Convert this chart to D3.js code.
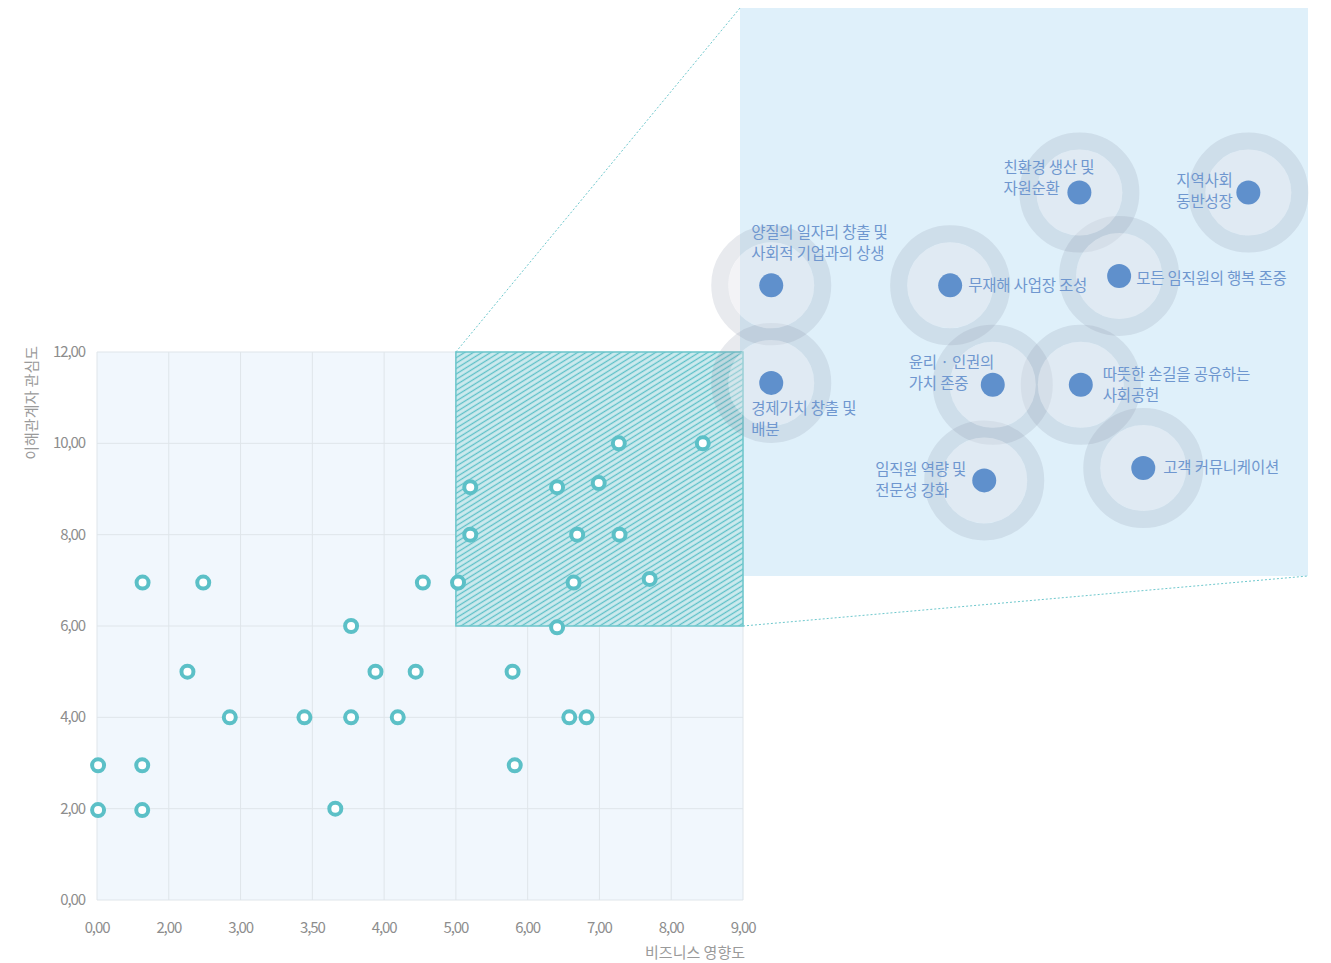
<!DOCTYPE html>
<html>
<head>
<meta charset="utf-8">
<script src="https://cdn.jsdelivr.net/npm/d3@7"></script>
<style>
  body { margin: 0; background: #fff; }
  text { font-family: "Noto Sans CJK KR", "Noto Sans", sans-serif; }
</style>
</head>
<body>
<svg id="chart" width="1331" height="963"></svg>
<script>
// materiality matrix + zoomed issue panel

// x axis is not uniform: evenly spaced ticks with these values
const xTicks = [0, 2, 3, 3.5, 4, 5, 6, 7, 8, 9];
const xTickLabels = ["0,00", "2,00", "3,00", "3,50", "4,00", "5,00", "6,00", "7,00", "8,00", "9,00"];
const yTicks = [0, 2, 4, 6, 8, 10, 12];
const yTickLabels = ["0,00", "2,00", "4,00", "6,00", "8,00", "10,00", "12,00"];

// business impact / stakeholder interest
const impact   = [0.03, 1.26, 3.66, 0.03, 1.26, 5.82, 2.85, 3.445, 3.77, 4.19, 6.58, 6.82,
                  2.26, 3.94, 4.44, 5.79, 3.77, 6.41, 1.27, 2.48, 4.54, 5.03, 6.64, 7.70,
                  5.2, 6.69, 7.28, 5.2, 6.41, 6.99, 7.27, 8.44];
const interest = [1.97, 1.97, 2.0, 2.95, 2.95, 2.95, 4, 4, 4, 4, 4, 4,
                  5, 5, 5, 5, 6, 5.97, 6.95, 6.95, 6.95, 6.95, 6.95, 7.03,
                  8, 8, 8, 9.04, 9.04, 9.13, 10, 10];

// highlighted region (in data units)
const zoomX = [5, 9];
const zoomY = [6, 12];

// issues shown in the panel (spread out a little compared to the matrix)
const issues = [
  ["양질의 일자리 창출 및", "사회적 기업과의 상생"],
  ["경제가치 창출 및", "배분"],
  ["무재해 사업장 조성"],
  ["친환경 생산 및", "자원순환"],
  ["지역사회", "동반성장"],
  ["모든 임직원의 행복 존중"],
  ["윤리 · 인권의", "가치 존중"],
  ["따뜻한 손길을 공유하는", "사회공헌"],
  ["임직원 역량 및", "전문성 강화"],
  ["고객 커뮤니케이션"]
];
const issueX = [5.22, 5.22, 6.48, 7.39, 8.58, 7.67, 6.78, 7.40, 6.72, 7.84];
const issueY = [9.07, 8.04, 9.07, 10.05, 10.05, 9.17, 8.02, 8.02, 7.01, 7.14];

// label offsets from the dot: [dx, dy of first line centre]
const labelOff = [[-20, -52], [-20, 26], [18, 1], [-76, -25], [-72, -12],
                  [17, 3], [-84, -22], [22, -10], [-109, -10], [20, 0]];

const teal = "#5cc0c7";
const gridC = "#dfe5ea";
const tickC = "#8d8d8d";

const svg = d3.select("#chart");
const defs = svg.append("defs");

const pat = defs.append("pattern").attr("id", "hatch")
    .attr("patternUnits", "userSpaceOnUse")
    .attr("width", 4.6).attr("height", 4.6)
    .attr("patternTransform", "rotate(-32)");
pat.append("rect").attr("width", 4.6).attr("height", 4.6).attr("fill", "#cdeaee");
pat.append("line").attr("x1", 0).attr("y1", 2.3).attr("x2", 4.6).attr("y2", 2.3)
    .attr("stroke", teal).attr("stroke-width", 1.3);

// ---- scales
const pl = 97, pr = 743, pt = 352, pb = 900;
const x = d3.scaleLinear().domain(xTicks)
    .range(xTicks.map((d, i) => pl + i * (pr - pl) / (xTicks.length - 1)));
const y = d3.scaleLinear().domain([0, 12]).range([pb, pt]);

const px = d3.scaleLinear().domain(zoomX).range([740, 1308]);
const py = d3.scaleLinear().domain(zoomY).range([576, 8]);

// panel background goes under everything
svg.append("rect").attr("x", px(zoomX[0])).attr("y", py(zoomY[1]))
    .attr("width", px(zoomX[1]) - px(zoomX[0])).attr("height", py(zoomY[0]) - py(zoomY[1]))
    .attr("fill", "#dff0fa");

// ---- matrix
const g = svg.append("g");
g.append("rect").attr("x", pl).attr("y", pt).attr("width", pr - pl).attr("height", pb - pt)
    .attr("fill", "#f1f7fd");

g.selectAll("line.vg").data(xTicks).join("line").attr("class", "vg")
    .attr("x1", d => x(d)).attr("x2", d => x(d)).attr("y1", pt).attr("y2", pb)
    .attr("stroke", gridC).attr("stroke-width", 1);
g.selectAll("line.hg").data(yTicks).join("line").attr("class", "hg")
    .attr("x1", pl).attr("x2", pr).attr("y1", d => y(d)).attr("y2", d => y(d))
    .attr("stroke", gridC).attr("stroke-width", 1);

g.selectAll("text.xt").data(xTicks).join("text").attr("class", "xt")
    .attr("x", d => x(d)).attr("y", 933).attr("text-anchor", "middle")
    .attr("font-size", 15).attr("letter-spacing", -1.1).attr("fill", tickC)
    .text((d, i) => xTickLabels[i]);
g.selectAll("text.yt").data(yTicks).join("text").attr("class", "yt")
    .attr("x", 85).attr("y", d => y(d) + 5).attr("text-anchor", "end")
    .attr("font-size", 15).attr("letter-spacing", -1.1).attr("fill", tickC)
    .text((d, i) => yTickLabels[i]);

g.append("text").attr("x", 745).attr("y", 958).attr("text-anchor", "end")
    .attr("font-size", 15).attr("fill", "#9a9a9a").text("비즈니스 영향도");
g.append("text").attr("transform", "translate(37,346) rotate(-90)")
    .attr("text-anchor", "end").attr("font-size", 15).attr("fill", "#9a9a9a")
    .text("이해관계자 관심도");

// highlighted box
g.append("rect").attr("x", x(zoomX[0])).attr("y", y(zoomY[1]))
    .attr("width", x(zoomX[1]) - x(zoomX[0])).attr("height", y(zoomY[0]) - y(zoomY[1]))
    .attr("fill", "url(#hatch)").attr("stroke", "#6cc6cb").attr("stroke-width", 1.5);

g.selectAll("circle.pt").data(impact).join("circle").attr("class", "pt")
    .attr("cx", d => x(d)).attr("cy", (d, i) => y(interest[i])).attr("r", 6)
    .attr("fill", "#fff").attr("stroke", teal).attr("stroke-width", 4);

// connector lines
svg.append("line").attr("x1", x(zoomX[0])).attr("y1", y(zoomY[1]))
    .attr("x2", px(zoomX[0])).attr("y2", py(zoomY[1]))
    .attr("stroke", "#6ec8cd").attr("stroke-width", 1).attr("stroke-dasharray", "2,2");
svg.append("line").attr("x1", x(zoomX[1])).attr("y1", y(zoomY[0]))
    .attr("x2", px(zoomX[1])).attr("y2", py(zoomY[0]))
    .attr("stroke", "#6ec8cd").attr("stroke-width", 1).attr("stroke-dasharray", "2,2");

// ---- zoom panel nodes
const pg = svg.append("g");
pg.selectAll("circle.ring").data(issueX).join("circle").attr("class", "ring")
    .attr("cx", d => px(d)).attr("cy", (d, i) => py(issueY[i])).attr("r", 51.5)
    .attr("fill", "none").attr("stroke", "rgba(140,150,168,0.2)").attr("stroke-width", 17);
pg.selectAll("circle.inner").data(issueX).join("circle").attr("class", "inner")
    .attr("cx", d => px(d)).attr("cy", (d, i) => py(issueY[i])).attr("r", 43)
    .attr("fill", "rgba(226,226,232,0.4)");
pg.selectAll("circle.dot").data(issueX).join("circle").attr("class", "dot")
    .attr("cx", d => px(d)).attr("cy", (d, i) => py(issueY[i])).attr("r", 12)
    .attr("fill", "#5f90cc");

pg.selectAll("text.lab").data(issues).join("text").attr("class", "lab")
    .attr("x", (d, i) => px(issueX[i]) + labelOff[i][0])
    .attr("y", (d, i) => py(issueY[i]) + labelOff[i][1] + 5)
    .attr("font-size", 15.5).attr("fill", "#6f97cf").attr("letter-spacing", -0.2)
    .each(function (d, i) {
      const t = d3.select(this);
      d.forEach((line, j) => {
        t.append("tspan").attr("x", px(issueX[i]) + labelOff[i][0])
          .attr("dy", j === 0 ? 0 : 21).text(line);
      });
    });
</script>
</body>
</html>
